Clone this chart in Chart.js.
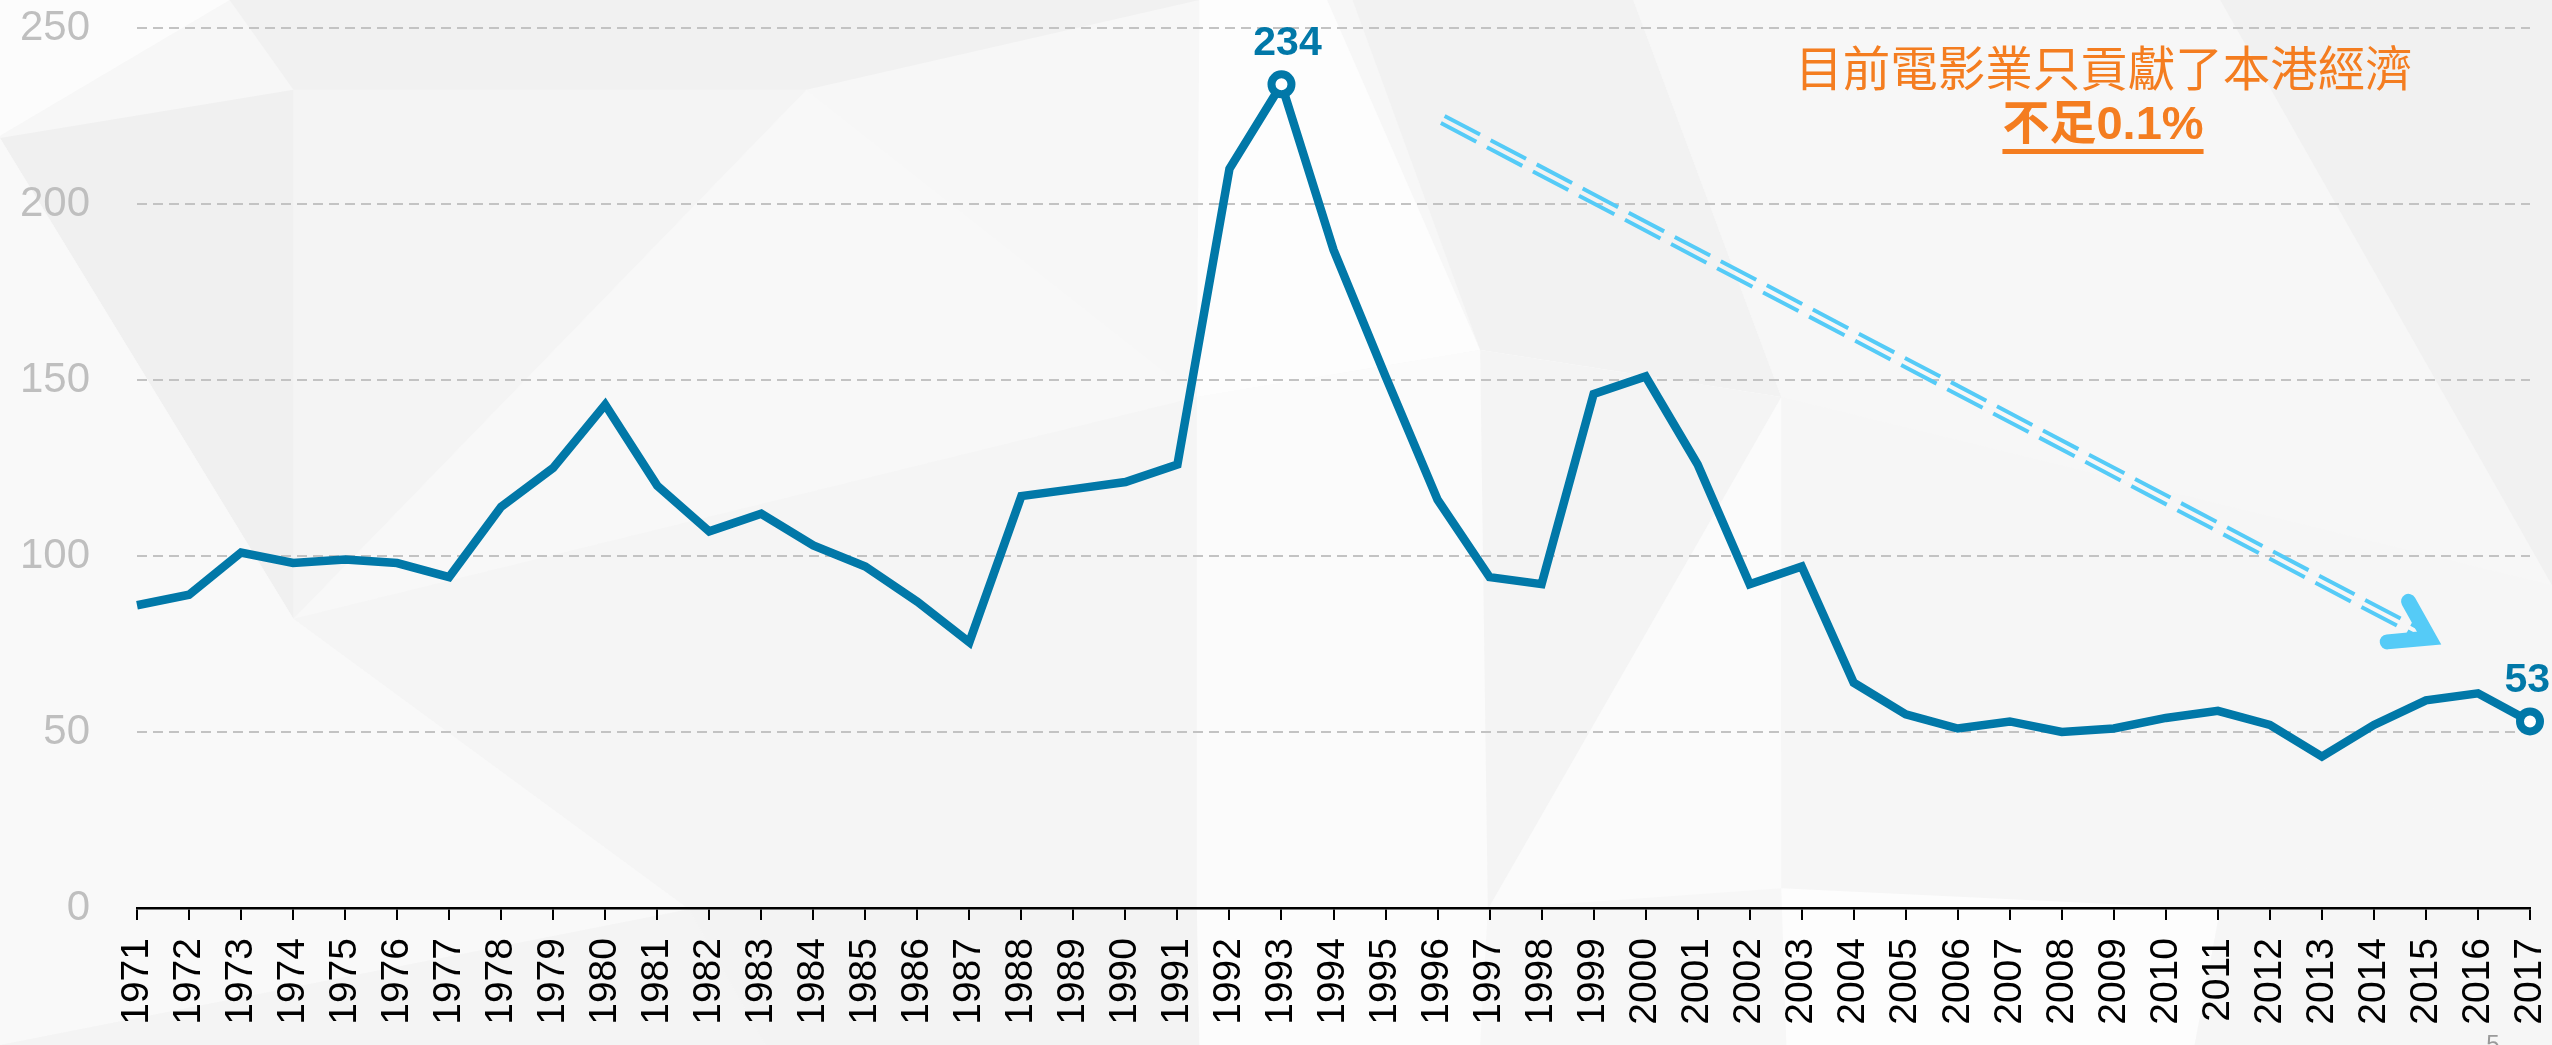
<!DOCTYPE html>
<html>
<head>
<meta charset="utf-8">
<script src="https://cdn.jsdelivr.net/npm/chart.js@4.4.1/dist/chart.umd.min.js"></script>
<style>
  html, body { margin: 0; padding: 0; background: #f7f7f7; overflow: hidden; }
  #wrap { width: 2552px; height: 1045px; position: relative; }
  canvas { display: block; }
</style>
</head>
<body>
<div id="wrap"><canvas id="c" width="2552" height="1045"></canvas></div>
<script>
// ---------------- DATA ----------------
const years = ['1971','1972','1973','1974','1975','1976','1977','1978','1979','1980',
  '1981','1982','1983','1984','1985','1986','1987','1988','1989','1990',
  '1991','1992','1993','1994','1995','1996','1997','1998','1999','2000',
  '2001','2002','2003','2004','2005','2006','2007','2008','2009','2010',
  '2011','2012','2013','2014','2015','2016','2017'];
const filmCounts = [86, 89, 101, 98, 99, 98, 94, 114, 125, 143,
  120, 107, 112, 103, 97, 87, 75.5, 117, 119, 121,
  126, 210, 234, 187, 151, 116, 94, 92, 146, 151,
  126, 92, 97, 64, 55, 51, 53, 50, 51, 54,
  56, 52, 43, 52, 59, 61, 53];
const yTickValues = [0, 50, 100, 150, 200, 250];
const highlightYears = ['1993', '2017'];
const noteLine1 = '目前電影業只貢獻了本港經濟';
const noteLine2 = '不足0.1%';
const trendStart = [1996.1, 224];   // [year, value]
const trendEnd = [2015.06, 76.7];
const pageNumber = '5';

// ---------------- STYLE ----------------
const BLUE = '#0178a8';
const ORANGE = '#f47d20';
const ARROW = '#55cbf7';
const FONT = '"Liberation Sans", Arial, sans-serif';
const CJK = '"Noto Sans CJK TC", "Noto Sans CJK SC", sans-serif';

const highlightIdx = highlightYears.map(y => years.indexOf(y));

// background low-poly decoration (fractions of canvas)
const bgPolys = [
  ['#fcfcfc', [[0,0],[0.09,0],[0,0.13]]],
  ['#f0f0f0', [[0,0.132],[0.115,0.086],[0.115,0.592]]],
  ['#f1f1f1', [[0.09,0],[0.47,0],[0.316,0.086],[0.115,0.086]]],
  ['#f4f4f4', [[0.115,0.086],[0.316,0.086],[0.115,0.592]]],
  ['#f8f8f8', [[0.316,0.086],[0.469,0.38],[0.115,0.592]]],
  ['#f5f5f5', [[0.115,0.592],[0.469,0.38],[0.469,0.87],[0.27,0.87]]],
  ['#f9f9f9', [[0,0.132],[0.115,0.592],[0.27,0.87],[0.0,1]]],
  ['#f4f4f4', [[0.0,1],[0.27,0.87],[0.30,1]]],
  ['#fdfdfd', [[0.47,0],[0.52,0],[0.58,0.335],[0.469,0.38]]],
  ['#f2f2f2', [[0.53,0],[0.64,0],[0.698,0.38],[0.58,0.335]]],
  ['#fbfbfb', [[0.469,0.38],[0.58,0.335],[0.698,0.38],[0.698,0.85],[0.583,0.87],[0.469,0.87]]],
  ['#f4f4f4', [[0.58,0.335],[0.698,0.38],[0.583,0.87]]],
  ['#f7f7f7', [[0.64,0],[0.87,0],[1,0.56],[0.698,0.38]]],
  ['#f1f1f1', [[0.87,0],[1,0],[1,0.56]]],
  ['#f6f6f6', [[0.698,0.38],[1,0.56],[1,0.72],[0.87,0.87],[0.698,0.85]]],
  ['#fdfdfd', [[0.698,0.85],[0.87,0.87],[0.86,1],[0.70,1]]],
  ['#f3f3f3', [[0.30,1],[0.27,0.87],[0.469,0.87],[0.47,1]]],
  ['#fcfcfc', [[0.469,0.87],[0.583,0.87],[0.58,1],[0.47,1]]],
  ['#f6f6f6', [[0.87,0.87],[1,0.72],[1,1],[0.86,1]]]
];

const backgroundPlugin = {
  id: 'bg',
  beforeDraw(chart) {
    const { ctx, width, height } = chart;
    ctx.save();
    ctx.fillStyle = '#f7f7f7';
    ctx.fillRect(0, 0, width, height);
    bgPolys.forEach(([col, pts]) => {
      ctx.beginPath();
      pts.forEach(([fx, fy], i) => {
        const px = fx * width, py = fy * height;
        if (i === 0) ctx.moveTo(px, py); else ctx.lineTo(px, py);
      });
      ctx.closePath();
      ctx.fillStyle = col;
      ctx.fill();
    });
    ctx.restore();
  }
};

const overlayPlugin = {
  id: 'overlay',
  afterDatasetsDraw(chart) {
    const { ctx, scales, width } = chart;
    const xs = scales.x, ys = scales.y;
    const meta = chart.getDatasetMeta(0);
    ctx.save();

    // value labels on highlighted points
    ctx.font = 'bold 41px ' + FONT;
    ctx.fillStyle = BLUE;
    ctx.textAlign = 'center';
    ctx.textBaseline = 'alphabetic';
    highlightIdx.forEach(i => {
      const p = meta.data[i];
      const txt = String(filmCounts[i]);
      const half = ctx.measureText(txt).width / 2;
      const cx = Math.min(p.x + 6, width - half - 2);
      ctx.fillText(txt, cx, p.y - 29);
    });

    // trend arrow (double dashed line + chevron head)
    const x0 = xs.getPixelForValue(trendStart[0] - Number(years[0]));
    const y0 = ys.getPixelForValue(trendStart[1]);
    const x1 = xs.getPixelForValue(trendEnd[0] - Number(years[0]));
    const y1 = ys.getPixelForValue(trendEnd[1]);
    const dx = x1 - x0, dy = y1 - y0, len = Math.hypot(dx, dy);
    const ux = dx / len, uy = dy / len;
    const nx = -uy, ny = ux;
    const ex = x1 - ux * 14, ey = y1 - uy * 14;
    ctx.strokeStyle = ARROW;
    ctx.lineWidth = 4;
    ctx.setLineDash([40, 12]);
    ctx.lineCap = 'butt';
    [-4, 4].forEach(off => {
      ctx.beginPath();
      ctx.moveTo(x0 + nx * off, y0 + ny * off);
      ctx.lineTo(ex + nx * off, ey + ny * off);
      ctx.stroke();
    });
    ctx.setLineDash([]);
    const back = Math.atan2(-uy, -ux);
    const arm = 42, spread = 33 * Math.PI / 180;
    ctx.lineWidth = 15;
    ctx.lineCap = 'round';
    ctx.lineJoin = 'miter';
    ctx.miterLimit = 10;
    ctx.beginPath();
    ctx.moveTo(x1 + Math.cos(back - spread) * arm, y1 + Math.sin(back - spread) * arm);
    ctx.lineTo(x1, y1);
    ctx.lineTo(x1 + Math.cos(back + spread) * arm, y1 + Math.sin(back + spread) * arm);
    ctx.stroke();

    ctx.restore();
  },
  afterDraw(chart) {
    const { ctx } = chart;
    ctx.save();
    // note text
    ctx.fillStyle = ORANGE;
    ctx.textAlign = 'center';
    ctx.textBaseline = 'middle';
    ctx.font = '47.5px ' + CJK;
    ctx.fillText(noteLine1, 2104, 68);
    ctx.font = 'bold 47px "Liberation Sans", ' + CJK;
    ctx.fillText(noteLine2, 2103, 126);
    const w = ctx.measureText(noteLine2).width;
    ctx.fillRect(2103 - w / 2, 149, w, 5);
    // page number
    ctx.fillStyle = '#9a9a9a';
    ctx.font = '24px ' + FONT;
    ctx.textAlign = 'center';
    ctx.textBaseline = 'alphabetic';
    ctx.fillText(pageNumber, 2493, 1052);
    ctx.restore();
  }
};

new Chart(document.getElementById('c'), {
  type: 'line',
  data: {
    labels: years,
    datasets: [{
      data: filmCounts,
      borderColor: BLUE,
      borderWidth: 8.5,
      tension: 0,
      fill: false,
      pointRadius: ctx => highlightIdx.includes(ctx.dataIndex) ? 10 : 0,
      pointBorderWidth: 8,
      pointBackgroundColor: '#ffffff',
      pointBorderColor: BLUE,
      pointHoverRadius: 0
    }]
  },
  options: {
    responsive: false,
    animation: false,
    devicePixelRatio: 1,
    layout: { padding: { top: 28, right: 22, left: 0, bottom: 0 } },
    plugins: { legend: { display: false }, tooltip: { enabled: false } },
    events: [],
    scales: {
      x: {
        type: 'category',
        offset: false,
        grid: { display: true, drawOnChartArea: false, drawTicks: true, tickLength: 12, color: '#000', lineWidth: 2 },
        border: { display: true, color: '#000', width: 2.5 },
        ticks: {
          autoSkip: false, minRotation: 90, maxRotation: 90, padding: 18,
          color: '#000', font: { family: FONT, size: 39 }
        },
        afterFit(s) { s.height = 137; s.paddingLeft = 0; s.paddingRight = 0; }
      },
      y: {
        min: 0, max: 250,
        afterBuildTicks(s) { s.ticks = yTickValues.map(v => ({ value: v })); },
        grid: {
          color: c => (c.tick && c.tick.value === 0) ? 'rgba(0,0,0,0)' : '#c3c3c3',
          lineWidth: 2, drawTicks: false
        },
        border: { display: false, dash: [10, 6] },
        ticks: { padding: 47, color: '#bfbfbf', font: { family: FONT, size: 42 } },
        afterFit(s) { s.width = 137; s.paddingTop = 0; s.paddingBottom = 0; }
      }
    }
  },
  plugins: [backgroundPlugin, overlayPlugin]
});
</script>
</body>
</html>
